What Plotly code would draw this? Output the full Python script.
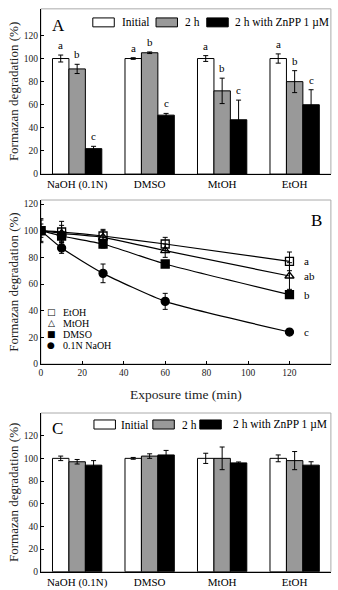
import plotly.graph_objects as go

# ---------------- data ----------------
solvents = ["NaOH (0.1N)", "DMSO", "MtOH", "EtOH"]
series_names = ["Initial", "2 h", "2 h with ZnPP 1 µM"]

a_initial = [100, 100, 100, 100]
a_initial_err = [3, 0.7, 2.5, 4]
a_2h = [91, 105, 72, 80]
a_2h_err = [4, 0.7, 11, 9.5]
a_znpp = [22, 51, 47, 60]
a_znpp_err = [2, 1.5, 17, 13]
a_letters = ["a", "b", "c"]

c_initial = [100, 100, 100, 100]
c_initial_err = [2, 0.8, 4.5, 3]
c_2h = [97, 102, 100, 98]
c_2h_err = [2, 2, 10, 8]
c_znpp = [94, 103, 96, 94]
c_znpp_err = [4, 4, 0.8, 3]

time_min = [0, 10, 30, 60, 120]
b_names = ["EtOH", "MtOH", "DMSO", "0.1N NaOH"]
b_etoh = [100, 99, 96, 90, 77]
b_etoh_err = [8, 8, 5, 5, 7]
b_mtoh = [100, 98, 95, 85, 66]
b_mtoh_err = [9, 6, 5, 5, 10]
b_dmso = [100, 96, 90, 75, 52]
b_dmso_err = [3, 3, 3, 2, 2]
b_naoh = [100, 87, 68, 47, 24]
b_naoh_err = [5, 4, 7, 6, 1]
b_labels = ["a", "ab", "b", "c"]

y_ticks = [0, 20, 40, 60, 80, 100, 120]
x_ticks_b = [0, 20, 40, 60, 80, 100, 120, 140]

# ---------------- style ----------------
FONT = "Liberation Serif"
bar_colors = ["white", "#999999", "black"]
X_DOM = [0.121, 0.979]
Y_DOM_A = [0.705, 0.985]
Y_DOM_B = [0.383, 0.661]
Y_DOM_C = [0.031, 0.300]

fig = go.Figure()

def add_bars(vals_list, errs_list, xa, ya):
    for name, vals, errs, col in zip(series_names, vals_list, errs_list, bar_colors):
        fig.add_trace(go.Bar(
            x=solvents, y=vals, name=name, xaxis=xa, yaxis=ya, showlegend=False,
            marker=dict(color=col, line=dict(color="black", width=1)),
            error_y=dict(type="data", array=errs, color="black", thickness=1, width=2.5),
        ))

add_bars([a_initial, a_2h, a_znpp], [a_initial_err, a_2h_err, a_znpp_err], "x", "y")
add_bars([c_initial, c_2h, c_znpp], [c_initial_err, c_2h_err, c_znpp_err], "x3", "y3")

b_symbols = ["square-open", "triangle-up-open", "square", "circle"]
b_glyphs = ["□", "△", "■", "●"]
for name, vals, errs, sym in zip(b_names, [b_etoh, b_mtoh, b_dmso, b_naoh],
                                 [b_etoh_err, b_mtoh_err, b_dmso_err, b_naoh_err], b_symbols):
    fig.add_trace(go.Scatter(
        x=time_min, y=vals, name=name, xaxis="x2", yaxis="y2", showlegend=False,
        mode="lines+markers", line=dict(color="black", width=1.2, shape="spline", smoothing=0.5),
        marker=dict(symbol=sym, size=8, color="black", line=dict(color="black", width=1.3)),
        error_y=dict(type="data", array=errs, color="black", thickness=1, width=2.5),
    ))

txt = lambda s: dict(family=FONT, size=s, color="#000000")

# letters above bars in panel A
bar_off = 16.4
for i, (vals, errs) in enumerate([(a_initial, a_initial_err), (a_2h, a_2h_err), (a_znpp, a_znpp_err)]):
    for cat, v, e in zip(solvents, vals, errs):
        fig.add_annotation(x=cat, y=v + e, xref="x", yref="y", text=a_letters[i],
                           showarrow=False, yanchor="bottom", xshift=(i - 1) * bar_off, yshift=2,
                           font=txt(11))

# letters at end of lines in panel B
for vals, lab in zip([b_etoh, b_mtoh, b_dmso, b_naoh], b_labels):
    fig.add_annotation(x=126, y=vals[-1], xref="x2", yref="y2", text=lab, showarrow=False,
                       xanchor="left", font=txt(11))

# panel letters
fig.add_annotation(x=0.03, y=0.9, xref="x domain", yref="y domain", text="A", showarrow=False,
                   xanchor="left", yanchor="middle", font=txt(17))
fig.add_annotation(x=133, y=108, xref="x2", yref="y2", text="B", showarrow=False, font=txt(17))
fig.add_annotation(x=0.03, y=0.9, xref="x3 domain", yref="y3 domain", text="C", showarrow=False,
                   xanchor="left", yanchor="middle", font=txt(17))

# legends for bar panels (swatch + label)
def bar_legend(xr, yr, sw_x, txt_x, y0, y1):
    for name, col, sx, tx in zip(series_names, bar_colors, sw_x, txt_x):
        fig.add_shape(type="rect", xref=xr + " domain", yref=yr + " domain",
                      x0=sx, x1=sx + 0.074, y0=y0, y1=y1,
                      line=dict(color="black", width=1), fillcolor=col)
        fig.add_annotation(x=tx, y=(y0 + y1) / 2, xref=xr + " domain", yref=yr + " domain",
                           text=name, showarrow=False, xanchor="left", yanchor="middle", font=txt(11.5))

bar_legend("x", "y", [0.179, 0.397, 0.572], [0.272, 0.490, 0.662], 0.891, 0.945)
bar_legend("x3", "y3", [0.183, 0.386, 0.548], [0.268, 0.480, 0.654], 0.899, 0.956)

# legend for panel B
for k, (g, name) in enumerate(zip(b_glyphs, b_names)):
    yy = 0.317 - k * 0.068
    fig.add_annotation(x=0.036, y=yy, xref="x2 domain", yref="y2 domain",
                       text=g, showarrow=False, xanchor="center", yanchor="middle", borderpad=0,
                       font=dict(family="DejaVu Sans", size=9, color="black"))
    fig.add_annotation(x=0.072, y=yy, xref="x2 domain", yref="y2 domain", borderpad=0,
                       text=name, showarrow=False, xanchor="left", yanchor="middle", font=txt(10))

# gray frame around each plot area
for xr, yr in [("x", "y"), ("x2", "y2"), ("x3", "y3")]:
    fig.add_shape(type="rect", xref=xr + " domain", yref=yr + " domain", x0=0, x1=1, y0=0, y1=1,
                  line=dict(color="#aaaaaa", width=1), layer="below")

tick_font = dict(family=FONT, size=9.5, color="#222222")
cat_font = dict(family=FONT, size=11, color="black")
title_font = dict(family=FONT, size=13, color="#222222")

def yax(dom, rng, anchor):
    return dict(domain=dom, range=rng, anchor=anchor, tickvals=y_ticks, tickfont=tick_font,
                showline=True, linecolor="black", linewidth=1, ticks="inside", ticklen=3,
                tickcolor="black", showgrid=False, zeroline=False,
                title=dict(text="Formazan degradation (%)", font=title_font, standoff=2))

def xcat(dom, anchor):
    return dict(domain=dom, anchor=anchor, type="category", tickfont=cat_font,
                showline=True, linecolor="black", linewidth=1, ticks="", showgrid=False)

fig.update_layout(
    template="none",
    width=338, height=590, margin=dict(l=0, r=0, t=0, b=0),
    paper_bgcolor="white", plot_bgcolor="white",
    font=dict(family=FONT, color="black"),
    showlegend=False,
    barmode="group", bargap=0.32, bargroupgap=0,
    xaxis=xcat(X_DOM, "y"),
    yaxis=yax(Y_DOM_A, [0, 143], "x"),
    xaxis2=dict(domain=X_DOM, anchor="y2", range=[0, 140], tickvals=x_ticks_b, tickfont=tick_font,
                showline=True, linecolor="black", linewidth=1, ticks="inside", ticklen=3,
                tickcolor="black", showgrid=False, zeroline=False,
                title=dict(text="Exposure time (min)", font=dict(family=FONT, size=13.5, color="#222222"),
                           standoff=12)),
    yaxis2=yax(Y_DOM_B, [0, 123], "x2"),
    xaxis3=xcat(X_DOM, "y3"),
    yaxis3=yax(Y_DOM_C, [0, 140], "x3"),
)

fig.write_html("out.html")
